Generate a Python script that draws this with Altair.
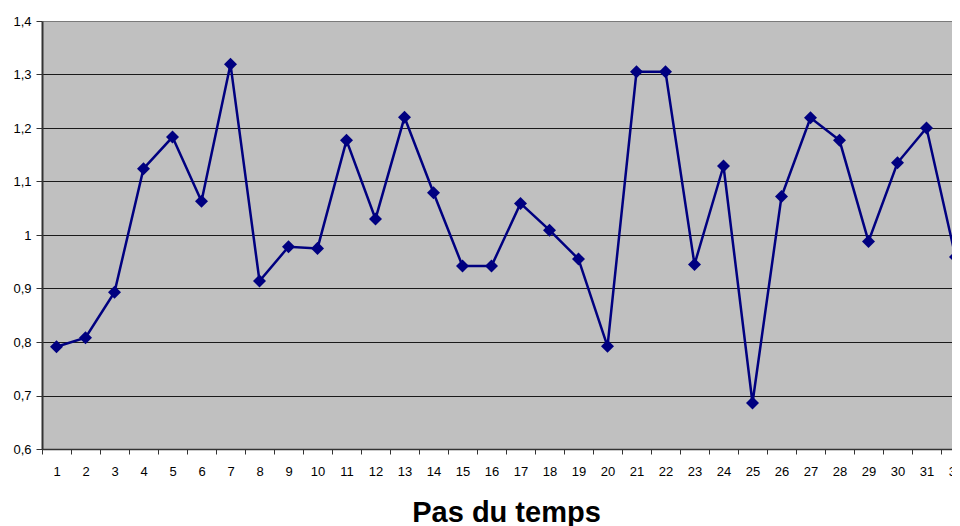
import altair as alt
import pandas as pd

steps = list(range(1, 33))
values = [0.791, 0.808, 0.893, 1.124, 1.183, 1.063, 1.319, 0.914, 0.978, 0.975,
          1.177, 1.030, 1.220, 1.079, 0.942, 0.942, 1.059, 1.009, 0.955, 0.792,
          1.305, 1.305, 0.945, 1.129, 0.686, 1.072, 1.219, 1.177, 0.988, 1.135,
          1.200, 0.959]
y_ticks = [0.6, 0.7, 0.8, 0.9, 1.0, 1.1, 1.2, 1.3, 1.4]
x_title = "Pas du temps"

df = pd.DataFrame({"step": steps, "value": values})

NAVY = "#000080"
FONT = "Liberation Sans"

x_enc = alt.X(
    "step:O",
    scale=alt.Scale(type="band", domain=steps, range=[0, 928], paddingInner=0, paddingOuter=0),
    axis=alt.Axis(
        title=x_title,
        labelAngle=0,
        tickBand="extent",
        tickSize=5,
        tickColor="#333333",
        tickWidth=1,
        domainColor="#333333",
        domainWidth=1.5,
        labelFont=FONT,
        labelFontSize=13,
        labelColor="#000000",
        labelPadding=11,
        titleFont=FONT,
        titleFontSize=29,
        titleFontWeight="bold",
        titleColor="#000000",
        titleX=464,
        titleY=72,
        titleAlign="center",
        titleBaseline="alphabetic",
        titleAnchor="start",
    ),
)

y_enc = alt.Y(
    "value:Q",
    scale=alt.Scale(domain=[0.6, 1.4], nice=False, zero=False),
    axis=alt.Axis(
        title=None,
        values=y_ticks,
        labelExpr="replace(format(datum.value, '.2~f'), '.', ',')",
        grid=True,
        gridColor={"condition": {"test": "datum.value >= 1.39", "value": "#7a7a7a"}, "value": "#1a1a1a"},
        gridWidth=1.2,
        tickSize=6,
        tickColor="#333333",
        tickWidth=1,
        domainColor="#333333",
        domainWidth=2,
        labelFont=FONT,
        labelFontSize=13,
        labelColor="#000000",
        labelPadding=5,
    ),
)

base = alt.Chart(df).encode(x=x_enc, y=y_enc)

line = base.mark_line(color=NAVY, strokeWidth=2.5)
pts = base.mark_point(shape="diamond", filled=True, color=NAVY, size=170, opacity=1)

chart = (
    alt.layer(line, pts)
    .properties(
        width=910,
        height=428,
        background="#ffffff",
        autosize=alt.AutoSizeParams(type="none"),
        padding={"left": 34, "top": 13, "right": 0, "bottom": 77},
    )
    .configure_view(fill="#C0C0C0", stroke="transparent")
)

chart.save("out.html", embed_options={"renderer": "svg", "actions": False})
